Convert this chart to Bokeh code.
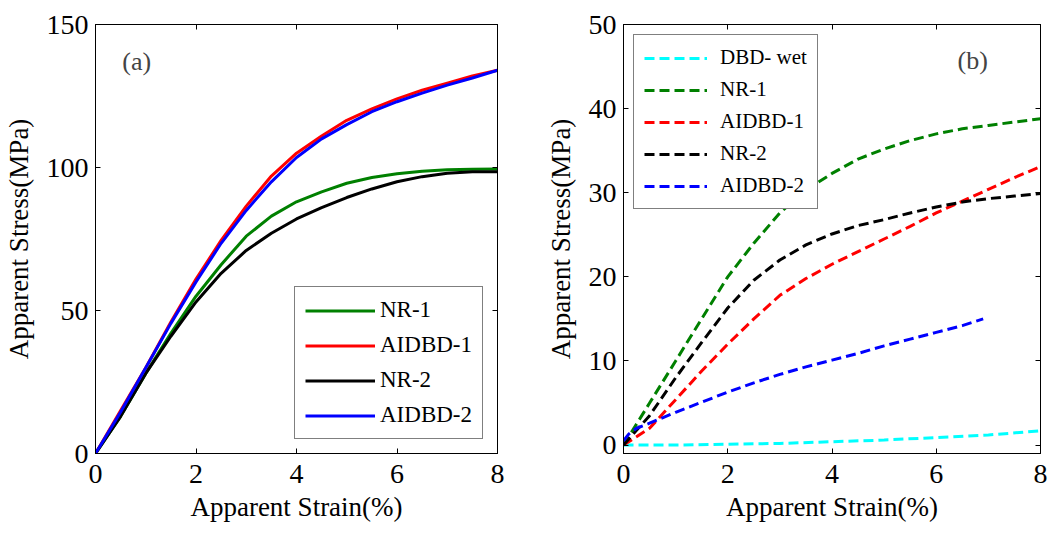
from bokeh.plotting import figure
from bokeh.layouts import row
from bokeh.models import (Legend, LegendItem, LinearAxis, Range1d, Label, FixedTicker,
                          CustomJSTickFormatter)
from bokeh.embed import file_html
from bokeh.resources import INLINE

# ---------- Panel (a) data ----------
strain_a = [0, 0.5, 1, 1.5, 2, 2.5, 3, 3.5, 4, 4.5, 5, 5.5, 6, 6.5, 7, 7.5, 8]
nr1_a = [0, 13, 28, 42, 55, 66, 76, 83, 88, 91.5, 94.5, 96.5, 97.8, 98.7, 99.2, 99.4, 99.5]
aidbd1_a = [0, 15, 30, 46, 61, 74.5, 86.5, 97, 105, 111, 116.5, 120.5, 124, 127, 129.5, 132, 134]
nr2_a = [0, 13, 28, 41, 53, 63, 71, 77, 82, 86, 89.5, 92.5, 95, 96.8, 98, 98.5, 98.5]
aidbd2_a = [0, 14.5, 30, 45.5, 60, 73.5, 85, 95, 103.5, 110, 115, 119.5, 123, 126, 128.8, 131.3, 134]

# ---------- Panel (b) data ----------
strain_b = [0, 0.5, 1, 1.5, 2, 2.5, 3, 3.5, 4, 4.5, 5, 5.5, 6, 6.5, 7, 7.5, 8]
dbd_wet_x = [0, 1, 2, 3, 4, 5, 6, 7, 8]
dbd_wet = [0, 0, 0.1, 0.2, 0.4, 0.6, 0.9, 1.2, 1.7]
nr1_b = [0, 5, 10, 15, 20, 24, 27.6, 30.3, 32.3, 34, 35.2, 36.2, 37, 37.6, 38, 38.4, 38.8]
aidbd1_b = [0, 2, 5.4, 8.8, 12, 15, 17.8, 19.8, 21.5, 23, 24.5, 26, 27.6, 29, 30.4, 31.8, 33.1]
nr2_b = [0, 3.5, 8, 12.2, 16.3, 19.6, 22, 23.8, 25.1, 26.1, 26.8, 27.6, 28.3, 28.9, 29.3, 29.6, 29.9]
aidbd2_x = [0, 0.1, 0.25, 0.5, 1, 1.5, 2, 2.5, 3, 3.5, 4, 4.5, 5, 5.5, 6, 6.5, 6.9]
aidbd2_b = [0.5, 1.3, 2.0, 2.6, 3.9, 5.1, 6.3, 7.4, 8.4, 9.3, 10.1, 10.9, 11.8, 12.6, 13.4, 14.2, 15.0]

x_ticks = [0, 2, 4, 6, 8]
y_ticks_a = [0, 50, 100, 150]
y_ticks_b = [0, 10, 20, 30, 40, 50]

FONT = "Liberation Serif"
LEG_FONT = "'Liberation Serif', serif"
GREEN, RED, BLACK, BLUE, CYAN = "#008000", "#ff0000", "#000000", "#0000ff", "#00ffff"


def make_fig(width, yr, yticks, mb_left, mb_right):
    p = figure(width=width, height=531, x_range=Range1d(0, 8), y_range=Range1d(*yr),
               output_backend="svg", toolbar_location=None,
               min_border_left=mb_left, min_border_right=mb_right,
               min_border_top=24, min_border_bottom=78)
    p.xgrid.visible = False
    p.ygrid.visible = False
    p.outline_line_color = "black"
    p.outline_line_width = 1
    p.xaxis.ticker = FixedTicker(ticks=x_ticks)
    p.yaxis.ticker = FixedTicker(ticks=yticks)
    for ax in (p.xaxis[0], p.yaxis[0]):
        ax.axis_line_color = "black"
        ax.major_tick_in = 5
        ax.major_tick_out = 0
        ax.minor_tick_line_color = None
        ax.major_label_text_font = FONT
        ax.major_label_text_font_size = "28px"
        ax.major_label_text_color = "black"
        ax.axis_label_text_font = FONT
        ax.axis_label_text_font_size = "27px"
        ax.axis_label_text_font_style = "normal"
        ax.axis_label_text_color = "black"
    p.xaxis.major_label_standoff = 11
    p.yaxis.major_label_standoff = 7
    p.xaxis.axis_label = "Apparent Strain(%)"
    p.yaxis.axis_label = "Apparent Stress(MPa)"
    p.xaxis.axis_label_standoff = 6
    p.yaxis.axis_label_standoff = 10
    blank = CustomJSTickFormatter(code="return '';")
    top = LinearAxis(ticker=FixedTicker(ticks=x_ticks), formatter=blank,
                     major_tick_in=5, major_tick_out=0, major_label_standoff=0,
                     minor_tick_line_color=None, axis_line_color="black")
    right = LinearAxis(ticker=FixedTicker(ticks=yticks), formatter=blank,
                       major_tick_in=5, major_tick_out=0, major_label_standoff=0,
                       minor_tick_line_color=None, axis_line_color="black")
    p.add_layout(top, "above")
    p.add_layout(right, "right")
    return p


# ---------- Panel (a) ----------
pa = make_fig(530, (0, 150), y_ticks_a, 95, 33)
la1 = pa.line(strain_a, nr1_a, line_color=GREEN, line_width=3)
la2 = pa.line(strain_a, aidbd1_a, line_color=RED, line_width=3)
la3 = pa.line(strain_a, nr2_a, line_color=BLACK, line_width=3)
la4 = pa.line(strain_a, aidbd2_a, line_color=BLUE, line_width=3)
leg_a = Legend(items=[LegendItem(label="NR-1", renderers=[la1]),
                      LegendItem(label="AIDBD-1", renderers=[la2]),
                      LegendItem(label="NR-2", renderers=[la3]),
                      LegendItem(label="AIDBD-2", renderers=[la4])],
               location="bottom_right", margin=14, padding=10, spacing=9,
               glyph_width=70, glyph_height=21, label_height=21, label_standoff=5,
               border_line_color="black", border_line_width=1,
               background_fill_color="white", background_fill_alpha=1)
leg_a.label_text_font = LEG_FONT
leg_a.label_text_font_size = "23px"
leg_a.label_text_color = "black"
pa.add_layout(leg_a, "center")
pa.add_layout(Label(x=0.82, y=137, text="(a)", text_align="center", text_baseline="middle",
                    text_font=FONT, text_font_size="26px"))

# ---------- Panel (b) ----------
pb = make_fig(520, (-1, 50), y_ticks_b, 93, 10)
dash = "10 5"
lb1 = pb.line(dbd_wet_x, dbd_wet, line_color=CYAN, line_width=3, line_dash=dash)
lb2 = pb.line(strain_b, nr1_b, line_color=GREEN, line_width=3, line_dash=dash)
lb3 = pb.line(strain_b, aidbd1_b, line_color=RED, line_width=3, line_dash=dash)
lb4 = pb.line(strain_b, nr2_b, line_color=BLACK, line_width=3, line_dash=dash)
lb5 = pb.line(aidbd2_x, aidbd2_b, line_color=BLUE, line_width=3, line_dash=dash)
leg_b = Legend(items=[LegendItem(label="DBD- wet", renderers=[lb1]),
                      LegendItem(label="NR-1", renderers=[lb2]),
                      LegendItem(label="AIDBD-1", renderers=[lb3]),
                      LegendItem(label="NR-2", renderers=[lb4]),
                      LegendItem(label="AIDBD-2", renderers=[lb5])],
               location="top_left", margin=10, padding=10, spacing=7,
               glyph_width=63, glyph_height=20, label_height=20, label_standoff=13,
               border_line_color="black", border_line_width=1,
               background_fill_color="white", background_fill_alpha=1)
leg_b.label_text_font = LEG_FONT
leg_b.label_text_font_size = "21px"
leg_b.label_text_color = "black"
pb.add_layout(leg_b, "center")
pb.add_layout(Label(x=6.7, y=45.7, text="(b)", text_align="center", text_baseline="middle",
                    text_font=FONT, text_font_size="26px"))

layout = row(pa, pb)
open("out.html", "w").write(file_html(layout, INLINE))
